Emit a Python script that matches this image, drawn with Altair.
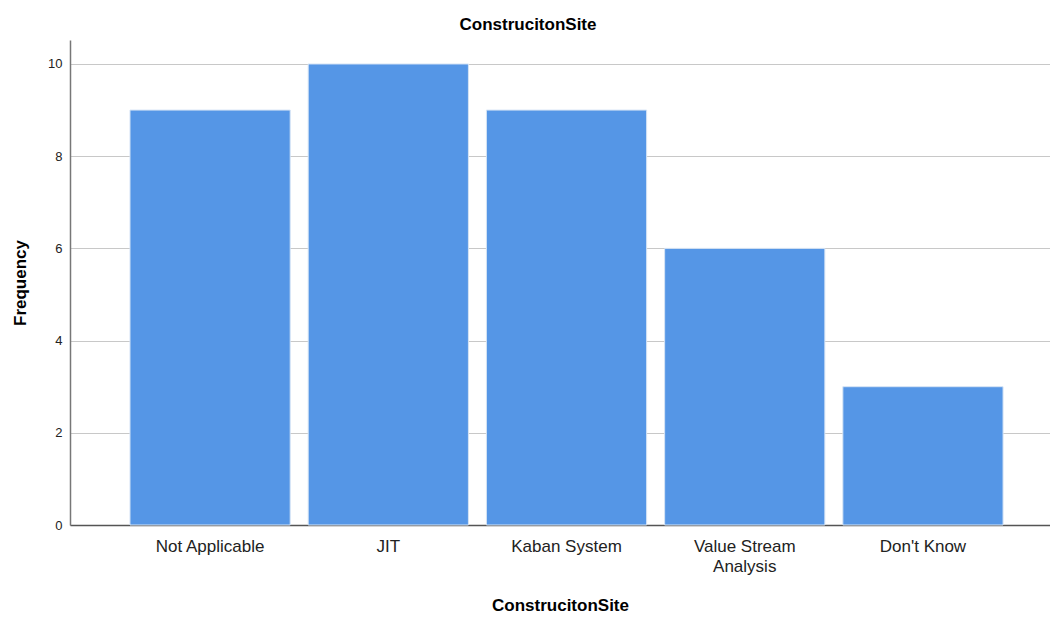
import altair as alt
import pandas as pd

categories = ["Not Applicable", "JIT", "Kaban System", "Value Stream Analysis", "Don't Know"]
frequency = [9, 10, 9, 6, 3]

df = pd.DataFrame({"cat": categories, "freq": frequency})

FONT = "Liberation Sans"

bars = alt.Chart(df).mark_bar(
    color="#5596e6", stroke="#d6e4f5", strokeWidth=1
).encode(
    x=alt.X(
        "cat:N",
        sort=categories,
        scale=alt.Scale(paddingInner=0.101, paddingOuter=0.300, align=0.561),
        axis=alt.Axis(
            title="ConstrucitonSite",
            labelAngle=0,
            labelFontSize=17,
            labelColor="#222222",
            labelFont=FONT,
            labelPadding=13,
            ticks=False,
            domainColor="#555555",
            domainWidth=1.5,
            titleFont=FONT,
            titleFontSize=17,
            titleFontWeight="bold",
            titleColor="#000000",
            titlePadding=23,
            labelExpr="datum.label == 'Value Stream Analysis' ? ['Value Stream', 'Analysis'] : datum.label",
            labelLineHeight=20,
        ),
    ),
    y=alt.Y(
        "freq:Q",
        scale=alt.Scale(domain=[0, 10.52], nice=False),
        axis=alt.Axis(
            title="Frequency",
            values=[0, 2, 4, 6, 8, 10],
            ticks=False,
            labelFontSize=13,
            labelColor="#222222",
            labelFont=FONT,
            labelPadding=8,
            domainColor="#777777",
            domainWidth=1.5,
            grid=True,
            gridColor="#c8c8c8",
            gridWidth=1.2,
            titleFont=FONT,
            titleFontSize=17,
            titleFontWeight="bold",
            titleColor="#000000",
            titlePadding=18,
        ),
    ),
)

chart = bars.properties(
    width=980,
    height=485,
    title=alt.TitleParams(
        "ConstrucitonSite",
        font=FONT,
        fontSize=17,
        fontWeight="bold",
        color="#000000",
        anchor="middle",
        dx=-32,
        offset=6,
    ),
    autosize=alt.AutoSizeParams(type="none"),
    padding={"left": 62, "top": 32, "right": 0, "bottom": 89},
).configure_view(stroke=None)

chart.save("out.html", embed_options={"renderer": "svg", "actions": False})
